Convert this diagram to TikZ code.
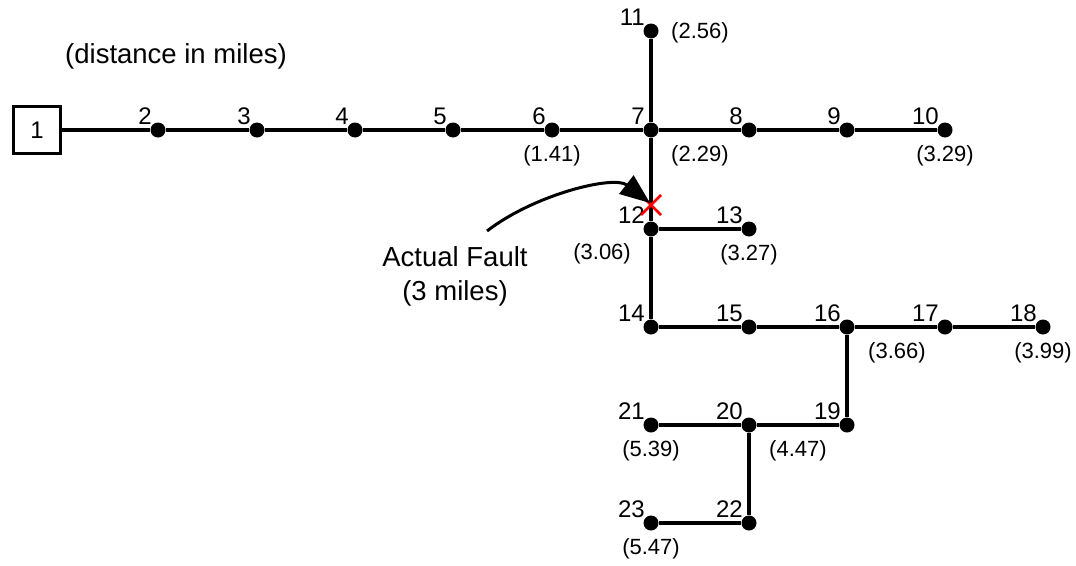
\documentclass[tikz,border=0pt]{standalone}
\usepackage{fontspec}
\setmainfont{Liberation Sans}
\usetikzlibrary{arrows.meta}
\newcommand\mybus[3]{%
  \node[busdot] (n#1) at (#2,#3) {};
  \node[numlbl, anchor=base east] (l#1) at ([xshift=-6pt,yshift=6pt]n#1.center) {#1};}
\begin{document}
\begin{tikzpicture}[x=1pt,y=-1pt,
  busdot/.style={circle,fill=black,inner sep=0pt,minimum size=15pt},
  numlbl/.style={inner sep=0pt,font=\fontsize{24}{24}\selectfont},
  distlbl/.style={inner sep=0pt,font=\fontsize{22}{22}\selectfont},
  txt/.style={inner sep=0pt,font=\fontsize{27.5}{27.5}\selectfont},
  wire/.style={line width=3.2pt},
  srcbox/.style={draw,line width=3.2pt,minimum size=47pt,inner sep=0pt,font=\fontsize{24}{24}\selectfont},
  faultx/.style={red,line width=2.5pt}]
\useasboundingbox (0,0) rectangle (1076,565);
\node[srcbox] (n1) at (37,130) {1};
\mybus{2}{158}{130}
\mybus{3}{257}{130}
\mybus{4}{355}{130}
\mybus{5}{453}{130}
\mybus{6}{552}{130}
\mybus{7}{651}{130}
\mybus{8}{749}{130}
\mybus{9}{847}{130}
\mybus{10}{945}{130}
\mybus{11}{651}{31}
\mybus{12}{651}{229}
\mybus{13}{749}{229}
\mybus{14}{651}{327}
\mybus{15}{749}{327}
\mybus{16}{847}{327}
\mybus{17}{945}{327}
\mybus{18}{1043}{327}
\mybus{19}{847}{425}
\mybus{20}{749}{425}
\mybus{21}{651}{425}
\mybus{22}{749}{523}
\mybus{23}{651}{523}
% wires
\draw[wire] (n1) -- (n2) -- (n3) -- (n4) -- (n5) -- (n6) -- (n7) -- (n8) -- (n9) -- (n10);
\draw[wire] (n7) -- (n11);
\draw[wire] (n7) -- (n12);
\draw[wire] (n12) -- (n13);
\draw[wire] (n12) -- (n14);
\draw[wire] (n14) -- (n15) -- (n16) -- (n17) -- (n18);
\draw[wire] (n16) -- (n19);
\draw[wire] (n19) -- (n20) -- (n21);
\draw[wire] (n20) -- (n22);
\draw[wire] (n22) -- (n23);
% distances
\node[distlbl, anchor=west] (d11) at ([xshift=20pt,yshift=-2pt]n11.center) {(2.56)};
\node[distlbl] (d6) at ([yshift=-26pt]n6.center) {(1.41)};
\node[distlbl, anchor=west] (d7) at ([xshift=20pt,yshift=-26pt]n7.center) {(2.29)};
\node[distlbl] (d10) at ([yshift=-26pt]n10.center) {(3.29)};
\node[distlbl, anchor=east] (d12) at ([xshift=-20pt,yshift=-25pt]n12.center) {(3.06)};
\node[distlbl] (d13) at ([yshift=-26pt]n13.center) {(3.27)};
\node[distlbl, anchor=west] (d16) at ([xshift=21pt,yshift=-26pt]n16.center) {(3.66)};
\node[distlbl] (d18) at ([yshift=-26pt]n18.center) {(3.99)};
\node[distlbl] (d21) at ([yshift=-26pt]n21.center) {(5.39)};
\node[distlbl, anchor=west] (d20) at ([xshift=20pt,yshift=-26pt]n20.center) {(4.47)};
\node[distlbl] (d23) at ([yshift=-26pt]n23.center) {(5.47)};
% texts
\node[txt] (legend) at (176,56) {(distance in miles)};
\node[txt, align=center, font=\fontsize{27.5}{34}\selectfont] (fault) at (455,276) {Actual Fault\\(3 miles)};
% fault mark
\coordinate (fx) at (651,205);
\draw[faultx] ([xshift=-10pt,yshift=10pt]fx) -- ([xshift=10pt,yshift=-10pt]fx);
\draw[faultx] ([xshift=-10pt,yshift=-10pt]fx) -- ([xshift=10pt,yshift=10pt]fx);
\coordinate (arrstart) at (487,231);
\coordinate (arrtip) at (650,203);
\draw[line width=3pt,-{Triangle[length=30pt,width=23pt]}] (arrstart) .. controls (535,194) and (614,175) .. (arrtip);
\end{tikzpicture}
\end{document}
